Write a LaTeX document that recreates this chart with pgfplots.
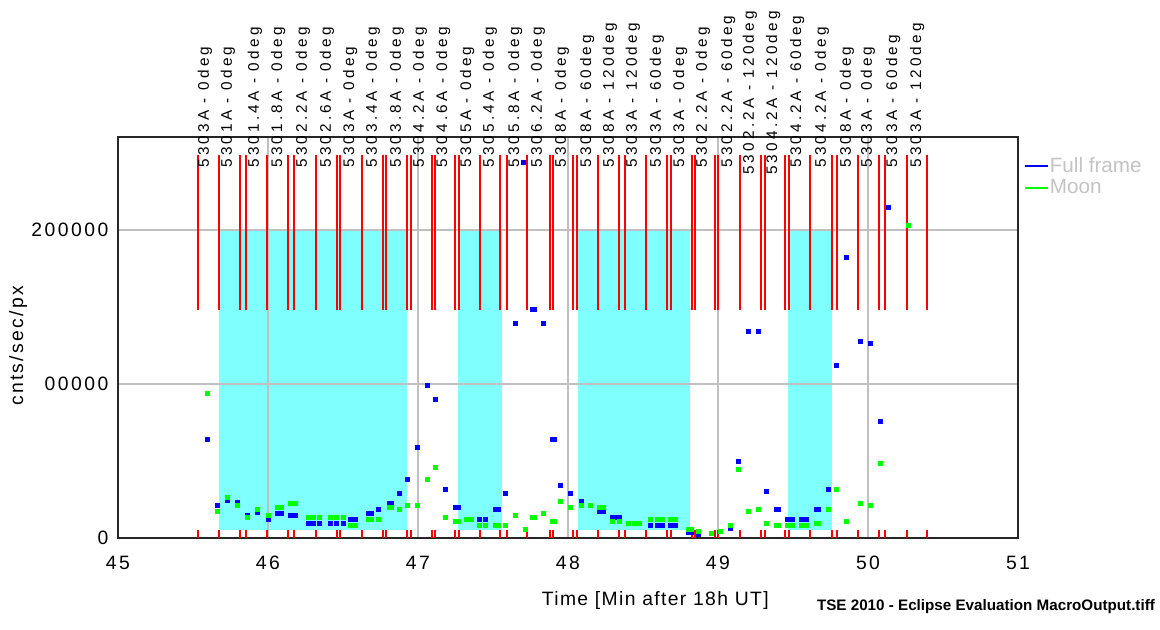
\documentclass[border=0pt]{standalone}
\usepackage{fontspec}
\setmainfont{Liberation Sans}
\newfontfamily\tickfont{Liberation Sans}[LetterSpace=13]
\newfontfamily\ylabfont{Liberation Sans}[LetterSpace=12]
\newfontfamily\xlabfont{Liberation Sans}[LetterSpace=7]
\newfontfamily\framefont{Liberation Sans}[LetterSpace=21]
\usepackage{pgfplots}
\usepackage{pgfplotstable}
\usetikzlibrary{calc}
\pgfplotsset{compat=1.18}

\definecolor{bandcyan}{RGB}{128,255,255}
\definecolor{gridgray}{RGB}{192,192,192}
\definecolor{legtext}{RGB}{195,195,195}
\definecolor{ffblue}{RGB}{0,0,255}
\definecolor{moongreen}{RGB}{0,255,0}
\definecolor{framered}{RGB}{255,0,0}

% filled bar marks for the frame markers
\pgfdeclareplotmark{tallbar}{\pgfpathrectangle{\pgfpoint{-0.45pt}{-58.3pt}}{\pgfpoint{0.9pt}{116.6pt}}\pgfusepathqfill}
\pgfdeclareplotmark{shortbar}{\pgfpathrectangle{\pgfpoint{-0.45pt}{-3pt}}{\pgfpoint{0.9pt}{6pt}}\pgfusepathqfill}

% frame markers: centre of tall bar (148000..249000) and of short tick (0..5200)
\pgfplotstableread{
x      ytall  yshort
45.533 198500 2600
45.670 198500 2600
45.678 198500 2600
45.813 198500 2600
45.853 198500 2600
45.990 198500 2600
45.998 198500 2600
46.133 198500 2600
46.173 198500 2600
46.317 198500 2600
46.325 198500 2600
46.460 198500 2600
46.480 198500 2600
46.624 198500 2600
46.632 198500 2600
46.767 198500 2600
46.787 198500 2600
46.927 198500 2600
46.953 198500 2600
47.093 198500 2600
47.113 198500 2600
47.247 198500 2600
47.273 198500 2600
47.410 198500 2600
47.418 198500 2600
47.547 198500 2600
47.593 198500 2600
47.724 198500 2600
47.732 198500 2600
47.880 198500 2600
47.900 198500 2600
48.033 198500 2600
48.060 198500 2600
48.197 198500 2600
48.205 198500 2600
48.340 198500 2600
48.380 198500 2600
48.517 198500 2600
48.525 198500 2600
48.660 198500 2600
48.687 198500 2600
48.827 198500 2600
48.847 198500 2600
48.980 198500 2600
49.000 198500 2600
49.144 198500 2600
49.152 198500 2600
49.287 198500 2600
49.313 198500 2600
49.447 198500 2600
49.473 198500 2600
49.610 198500 2600
49.618 198500 2600
49.760 198500 2600
49.793 198500 2600
49.930 198500 2600
49.938 198500 2600
50.073 198500 2600
50.113 198500 2600
50.257 198500 2600
50.265 198500 2600
50.393 198500 2600
}\framelines

\pgfplotstableread{
t      v
45.595 64000
45.662 21200
45.729 24700
45.795 22900
45.862 14900
45.929 16700
46.002 11900
46.060 15800
46.087 15800
46.147 14500
46.180 14500
46.267 9300
46.300 9300
46.340 9300
46.413 9300
46.457 9300
46.500 9300
46.547 11900
46.580 11900
46.667 15800
46.687 15800
46.735 18400
46.807 22300
46.820 22300
46.878 28800
46.931 38100
46.998 58600
47.063 99200
47.117 90100
47.182 31600
47.249 19700
47.267 19700
47.411 11900
47.451 11900
47.515 18400
47.533 18400
47.585 28800
47.651 139400
47.702 244300
47.760 148500
47.773 148500
47.835 139400
47.893 63800
47.907 63800
47.947 34000
48.013 28800
48.091 23600
48.211 17100
48.238 17100
48.293 13200
48.320 13200
48.345 13200
48.549 8000
48.593 8000
48.627 8000
48.682 8000
48.718 8000
48.805 3700
48.822 3700
48.870 2600
49.080 6300
49.135 49600
49.202 134400
49.269 134400
49.320 30100
49.390 18400
49.405 18400
49.460 11900
49.493 11900
49.553 11900
49.589 11900
49.655 18400
49.667 18400
49.735 31400
49.787 112100
49.853 182300
49.947 127700
50.013 126400
50.080 75500
50.136 214700
50.269 203200
}\fullframe

\pgfplotstableread{
t      v
45.595 94000
45.662 17100
45.729 26200
45.795 21000
45.862 13200
45.929 18600
46.002 14500
46.060 19900
46.087 19900
46.147 22300
46.180 22300
46.267 13200
46.300 13200
46.340 13200
46.413 13200
46.457 13200
46.500 13200
46.547 8000
46.580 8000
46.667 11900
46.687 11900
46.735 11900
46.807 19700
46.820 19700
46.878 18400
46.931 21000
46.998 21000
47.063 38100
47.117 45700
47.182 13200
47.249 10600
47.267 10600
47.322 11900
47.355 11900
47.411 8000
47.451 8000
47.515 8000
47.533 8000
47.585 8000
47.651 14500
47.718 5400
47.760 13200
47.773 13200
47.837 15800
47.893 10600
47.907 10600
47.947 23600
48.013 19700
48.091 21000
48.151 21000
48.211 19700
48.238 19700
48.293 10600
48.345 10600
48.405 9300
48.440 9300
48.478 9300
48.549 11900
48.593 11900
48.627 11900
48.682 11900
48.718 11900
48.805 5400
48.822 5400
48.870 4100
48.955 2800
49.013 4100
49.080 8000
49.135 44600
49.202 17100
49.269 18400
49.320 9300
49.390 8000
49.405 8000
49.460 8000
49.493 8000
49.553 8000
49.589 8000
49.655 9300
49.667 9300
49.735 18400
49.789 31400
49.855 10600
49.949 22300
50.015 21000
50.080 48250
50.269 203200
}\moon

\pgfplotstableread[col sep=comma]{
x,y,label
45.580,240300,5303A - 0deg
45.733,240300,5301A - 0deg
45.913,240300,5301.4A - 0deg
46.067,240300,5301.8A - 0deg
46.233,240300,5302.2A - 0deg
46.393,240300,5302.6A - 0deg
46.547,240300,5303A - 0deg
46.700,240300,5303.4A - 0deg
46.860,240300,5303.8A - 0deg
47.013,240300,5304.2A - 0deg
47.167,240300,5304.6A - 0deg
47.327,240300,5305A - 0deg
47.480,240300,5305.4A - 0deg
47.647,240300,5305.8A - 0deg
47.800,240300,5306.2A - 0deg
47.960,240300,5308A - 0deg
48.127,240300,5308A - 60deg
48.280,240300,5308A - 120deg
48.433,240300,5303A - 120deg
48.593,240300,5303A - 60deg
48.747,240300,5303A - 0deg
48.900,240300,5302.2A - 0deg
49.067,240300,5302.2A - 60deg
49.213,235700,5302.2A - 120deg
49.367,235700,5304.2A - 120deg
49.527,240300,5304.2A - 60deg
49.693,240300,5304.2A - 0deg
49.860,240300,5308A - 0deg
50.000,240300,5303A - 0deg
50.167,240300,5303A - 60deg
50.327,240300,5303A - 120deg
}\framelabels

\begin{document}
\begin{tikzpicture}
\begin{axis}[
  name=main,
  width=675pt, height=300.75pt, scale only axis,
  xmin=45, xmax=51, ymin=0, ymax=260400,
  xtick={45,46,47,48,49,50,51},
  ytick={0,100000,200000},
  yticklabels={0,00000,200000},
  scaled y ticks=false,
  grid=major,
  major grid style={gridgray, line width=1.1pt},
  axis on top,
  axis line style={black!85, line width=1.4pt},
  tick style={draw=none},
  clip=false,
  /pgf/number format/assume math mode=true,
  tick label style={font=\tickfont\fontsize{14.5}{17}\selectfont},
  xticklabel style={anchor=center, yshift=-18.75pt},
  yticklabel style={anchor=east, inner sep=0pt, xshift=-7pt},
  xlabel={Time [Min after 18h UT]},
  ylabel={cnts/sec/px},
  xlabel style={at={(axis description cs:0.597,-0.155)}, anchor=center,
    font=\xlabfont\fontsize{14.5}{17}\selectfont},
  ylabel style={at={(axis description cs:-0.111,0.479)}, anchor=center,
    font=\ylabfont\fontsize{14.5}{17}\selectfont},
  legend style={at={(axis description cs:1.0078,0.955)}, anchor=north west,
    draw=none, fill=none, inner sep=0pt, row sep=1pt,
    font=\fontsize{15.5}{17}\selectfont, nodes={inner sep=1.5pt}},
  legend cell align=left,
]
% cyan bands
\addplot[fill=bandcyan, draw=none, forget plot] coordinates {(45.675,5500) (46.929,5500) (46.929,200000) (45.675,200000)} -- cycle;
\addplot[fill=bandcyan, draw=none, forget plot] coordinates {(47.265,5500) (47.558,5500) (47.558,200000) (47.265,200000)} -- cycle;
\addplot[fill=bandcyan, draw=none, forget plot] coordinates {(48.065,5500) (48.813,5500) (48.813,200000) (48.065,200000)} -- cycle;
\addplot[fill=bandcyan, draw=none, forget plot] coordinates {(49.469,5500) (49.762,5500) (49.762,200000) (49.469,200000)} -- cycle;

% red frame markers (filled bar marks)
\addplot[only marks, mark=tallbar, color=framered, forget plot,
  mark options={draw=none, fill=framered}]
  table[x=x, y=ytall] {\framelines};
\addplot[only marks, mark=shortbar, color=framered, forget plot,
  mark options={draw=none, fill=framered}]
  table[x=x, y=yshort] {\framelines};

% measurements
\addplot[only marks, mark=square*, mark size=1.5pt, color=ffblue,
  mark options={draw=none, fill=ffblue},
  legend image code/.code={\fill[ffblue] (0pt,-0.5pt) rectangle (16.5pt,0.5pt);}]
  table[x=t, y=v] {\fullframe};
\addlegendentry{\textcolor{legtext}{Full frame}}
\addplot[only marks, mark=square*, mark size=1.5pt, color=moongreen,
  mark options={draw=none, fill=moongreen},
  legend image code/.code={\fill[moongreen] (0pt,-0.5pt) rectangle (16.5pt,0.5pt);}]
  table[x=t, y=v] {\moon};
\addlegendentry{\textcolor{legtext}{Moon}}

% frame names
\addplot[draw=none, mark=none, forget plot,
  nodes near coords, point meta=explicit symbolic,
  nodes near coords style={rotate=90, anchor=west, inner sep=0pt,
    font=\framefont\fontsize{11.5}{13}\selectfont}]
  table[x=x, y=y, meta=label] {\framelabels};
\end{axis}
\node[font=\fontsize{11.4}{13}\selectfont\bfseries, anchor=center]
  at ($(main.south west)!0.9644!(main.south east) + (0,-51.75pt)$) {TSE 2010 - Eclipse Evaluation MacroOutput.tiff};
\pgfresetboundingbox
\path[use as bounding box] ([shift={(-88.5pt,-68.25pt)}]main.south west) rectangle ([shift={(106.5pt,102.75pt)}]main.north east);
\end{tikzpicture}
\end{document}
